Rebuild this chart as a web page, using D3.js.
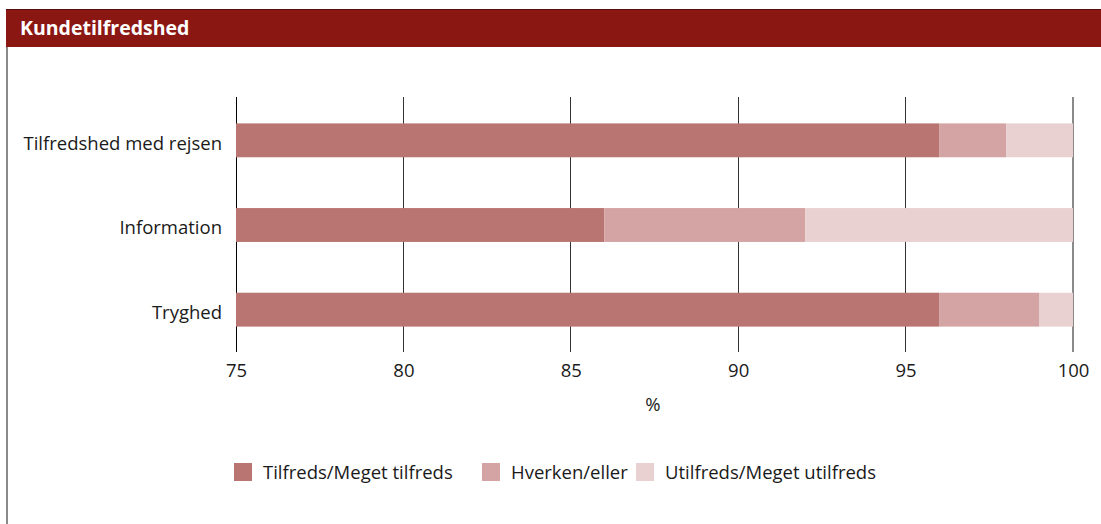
<!DOCTYPE html>
<html><head><meta charset="utf-8">
<script src="https://cdn.jsdelivr.net/npm/d3@7/dist/d3.min.js"></script>
<style>
html,body{margin:0;padding:0;background:#fff;}
svg{display:block;font-family:"Open Sans","Noto Sans",sans-serif;}
</style></head>
<body>
<svg id="c" width="1101" height="524"></svg>
<script>
const title = "Kundetilfredshed";
const categories = ["Tilfredshed med rejsen", "Information", "Tryghed"];
const seriesNames = ["Tilfreds/Meget tilfreds", "Hverken/eller", "Utilfreds/Meget utilfreds"];
const satisfied = [96, 86, 96];
const neutral = [2, 6, 3];
const dissatisfied = [2, 8, 1];
const tickValues = [75, 80, 85, 90, 95, 100];
const axisLabel = "%";
const colors = ["#b97571", "#d4a3a3", "#e9d1d1"];

const FS = 18.5;
const svg = d3.select("#c");
// header
svg.append("rect").attr("x",6).attr("y",9).attr("width",1095).attr("height",38).attr("fill","#8b1713");
svg.append("line").attr("x1",6).attr("x2",1101).attr("y1",9.5).attr("y2",9.5).attr("stroke","#5a0e0b").attr("stroke-width",1);
svg.append("line").attr("x1",7).attr("x2",7).attr("y1",47).attr("y2",524).attr("stroke","#8a8a8a").attr("stroke-width",2);
svg.append("text").attr("x",20).attr("y",35).attr("fill","#fff").attr("font-weight","bold").attr("font-size",19.5).text(title);

const x = d3.scaleLinear().domain([75,100]).range([236,1073]);
const y = d3.scaleBand().domain(categories).range([98,352]).paddingInner(0.6).paddingOuter(0.3);

// gridlines
svg.append("g").selectAll("line").data(tickValues).join("line")
  .attr("x1",d=>x(d)).attr("x2",d=>x(d)).attr("y1",97).attr("y2",352)
  .attr("stroke",d=>d===100?"#8a8a8a":(d===75?"#000":"#333")).attr("stroke-width",d=>d===100?2:1)
  .attr("shape-rendering","crispEdges");

// stacked bars (cumulative, clipped to axis start)
const rows = categories.map((c,i)=>({cat:c, v:[satisfied[i], neutral[i], dissatisfied[i]]}));
const xmin = x.domain()[0];
rows.forEach(r=>{
  let start = 0;
  r.v.forEach((val,k)=>{
    const a = Math.max(xmin, start), b = start+val;
    if (b > a) {
      svg.append("rect").attr("x",x(a)).attr("y",y(r.cat)).attr("width",x(b)-x(a)).attr("height",y.bandwidth()).attr("fill",colors[k]);
    }
    start = b;
  });
});

// axis
const xAxis = d3.axisBottom(x).tickValues(tickValues).tickSize(0).tickPadding(0).tickFormat(d3.format("d"));
const ax = svg.append("g").attr("transform","translate(0,352)").call(xAxis);
ax.select(".domain").remove();
ax.selectAll("text").attr("font-size",FS).attr("fill","#1a1a1a").attr("dy",0).attr("y",25).attr("font-family","'Open Sans','Noto Sans',sans-serif");
svg.append("text").attr("x",653).attr("y",411).attr("text-anchor","middle").attr("font-size",FS).attr("fill","#1a1a1a").text(axisLabel);

// y axis labels
const yAxis = d3.axisLeft(y).tickSize(0).tickPadding(14);
const ay = svg.append("g").attr("transform","translate(236,0)").call(yAxis);
ay.select(".domain").remove();
ay.selectAll("text").attr("font-size",FS).attr("fill","#1a1a1a").attr("font-family","'Open Sans','Noto Sans',sans-serif").attr("dy","0.5em");

// legend
const legX = [234, 482, 636];
seriesNames.forEach((n,i)=>{
  svg.append("rect").attr("x",legX[i]).attr("y",463).attr("width",18).attr("height",18).attr("fill",colors[i]);
  svg.append("text").attr("x",legX[i]+29).attr("y",479).attr("font-size",FS).attr("fill","#1a1a1a").text(n);
});
</script>
</body></html>
